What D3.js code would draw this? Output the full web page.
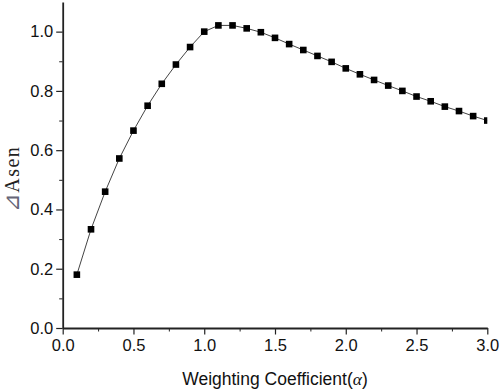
<!DOCTYPE html>
<html><head><meta charset="utf-8">
<script src="https://cdn.jsdelivr.net/npm/d3@7/dist/d3.min.js"></script>
<style>body{margin:0;background:#fff}svg{display:block}</style>
</head><body><svg id="c" width="500" height="389"></svg>
<script>
const alphaValues = [0.1,0.2,0.3,0.4,0.5,0.6,0.7,0.8,0.9,1.0,1.1,1.2,1.3,1.4,1.5,1.6,1.7,1.8,1.9,2.0,2.1,2.2,2.3,2.4,2.5,2.6,2.7,2.8,2.9,3.0];
const asenValues = [0.180,0.333,0.460,0.572,0.666,0.750,0.824,0.889,0.948,1.000,1.021,1.021,1.011,0.998,0.979,0.958,0.938,0.918,0.898,0.876,0.856,0.837,0.818,0.800,0.781,0.765,0.747,0.732,0.715,0.700];
const xTicks = [0.0,0.5,1.0,1.5,2.0,2.5,3.0];
const yTicks = [0.0,0.2,0.4,0.6,0.8,1.0];

const svg = d3.select("#c");
const L = 62.7, R = 487.3, T = 2, B = 328;
const x = d3.scaleLinear().domain([0,3]).range([L,R]);
const y = d3.scaleLinear().domain([0,1.1]).range([B,T]);

svg.append("defs").append("clipPath").attr("id","pc")
  .append("rect").attr("x",L).attr("y",T).attr("width",R-L).attr("height",B-T);

const g = svg.append("g").attr("clip-path","url(#pc)");
const data = alphaValues.map((a,i)=>({a, v: asenValues[i]}));
g.append("path").datum(data)
  .attr("d", d3.line().x(d=>x(d.a)).y(d=>y(d.v)))
  .attr("fill","none").attr("stroke","#444").attr("stroke-width",1);
g.selectAll("rect.m").data(data).enter().append("rect").attr("class","m")
  .attr("x",d=>x(d.a)-3.3).attr("y",d=>y(d.v)-3.3)
  .attr("width",6.6).attr("height",6.6).attr("fill","#000");

const minorY = d3.range(0.1,1.1,0.2);
const minorX = d3.range(0.25,3,0.5);
svg.append("g").attr("transform",`translate(${L},0)`)
  .call(d3.axisLeft(y).tickValues(minorY).tickSize(3.5).tickFormat(""))
  .call(s=>{s.select(".domain").remove(); s.selectAll("line").attr("stroke","#222");});
svg.append("g").attr("transform",`translate(0,${B})`)
  .call(d3.axisBottom(x).tickValues(minorX).tickSize(3.5).tickFormat(""))
  .call(s=>{s.select(".domain").remove(); s.selectAll("line").attr("stroke","#222");});

const yAx = svg.append("g").attr("transform",`translate(${L},0)`)
  .call(d3.axisLeft(y).tickValues(yTicks).tickSize(6.5).tickSizeOuter(0).tickPadding(3).tickFormat(d3.format(".1f")));
const xAx = svg.append("g").attr("transform",`translate(0,${B})`)
  .call(d3.axisBottom(x).tickValues(xTicks).tickSize(6.5).tickSizeOuter(0).tickPadding(5).tickFormat(d3.format(".1f")));
[yAx,xAx].forEach(a=>{
  a.select(".domain").attr("stroke","#222").attr("stroke-width",1.8);
  a.selectAll(".tick line").attr("stroke","#222").attr("stroke-width",1.2);
  a.selectAll("text").attr("font-family","Liberation Sans, Arial, sans-serif").attr("font-size",16.5).attr("fill","#111");
});

svg.append("text").attr("transform","translate(19,179) rotate(-90)")
  .attr("text-anchor","middle").attr("font-family","Liberation Serif, Times New Roman, serif")
  .attr("font-size",20).attr("fill","#222").attr("letter-spacing",1.5)
  .html('<tspan fill="#667" font-size="22">⊿</tspan>Asen');

svg.append("text").attr("x",275).attr("y",385).attr("text-anchor","middle")
  .attr("font-family","Liberation Sans, Arial, sans-serif").attr("font-size",17.5).attr("fill","#111")
  .html('Weighting Coefficient(<tspan font-family="Liberation Serif, serif" font-style="italic">α</tspan>)');
</script></body></html>
